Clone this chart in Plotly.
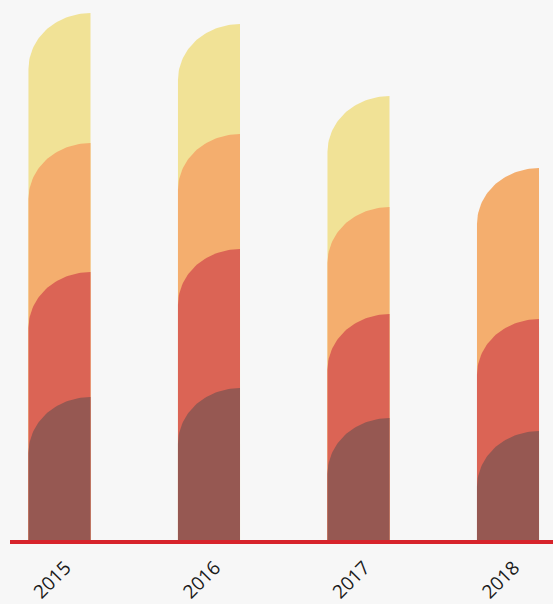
import numpy as np
import plotly.graph_objects as go

years = ["2015", "2016", "2017", "2018"]
brown = [28.6, 30.4, 24.4, 21.8]
red = [25.0, 27.8, 20.8, 22.4]
orange = [25.8, 23.0, 21.4, 30.2]
yellow = [26.0, 22.0, 22.2, 0.0]

series = [("brown", brown, "#965852"), ("red", red, "#DB6455"),
          ("orange", orange, "#F4AE6E"), ("yellow", yellow, "#F1E296")]

bar_w = 0.415          # bar width in category units
curve_ry = 11.2        # vertical radius of the rounded corner (y units)

xpos = np.arange(len(years))
cum = np.cumsum(np.array([s[1] for s in series]), axis=0)

fig = go.Figure()
t = np.linspace(np.pi / 2, np.pi, 40)
# draw from top layer down so lower segments overlay
for k in range(len(series) - 1, -1, -1):
    name, vals, col = series[k]
    for i, xc in enumerate(xpos):
        if vals[i] <= 0:
            continue
        top = cum[k][i]
        x0 = xc - bar_w / 2
        x1 = xc + bar_w / 2
        ry = min(curve_ry, top)
        xs = [x0, x1, x1] + list(x1 + bar_w * np.cos(t)) + [x0]
        ys = [0, 0, top] + list(top - ry + ry * np.sin(t)) + [0]
        fig.add_trace(go.Scatter(x=xs, y=ys, fill="toself", fillcolor=col,
                                 mode="lines", line=dict(width=0),
                                 hoverinfo="skip", showlegend=False))

fig.update_layout(
    width=553, height=604,
    margin=dict(l=10, r=0, t=0, b=64),
    paper_bgcolor="#F7F7F7", plot_bgcolor="#F7F7F7",
    font=dict(family="Open Sans", color="#222222"),
    xaxis=dict(range=[-0.331, 3.301], tickmode="array", tickvals=list(xpos),
               ticktext=years, tickangle=-45, showgrid=False, zeroline=False,
               showline=True, linecolor="#D7232B", linewidth=4,
               ticklabelstandoff=5, ticklabelshift=6,
               tickfont=dict(size=19, color="#1a1a1a"), fixedrange=True),
    yaxis=dict(range=[0, 108], visible=False, showgrid=False, zeroline=False,
               fixedrange=True),
)

fig.write_html("out.html", config={"displayModeBar": False},
               post_script="document.body.style.margin='0';document.body.style.background='#F7F7F7';")
